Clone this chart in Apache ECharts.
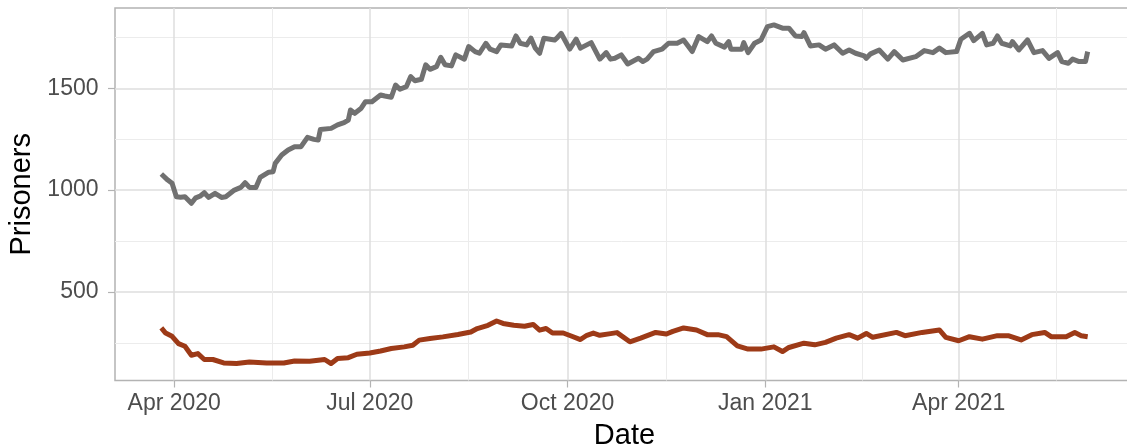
<!DOCTYPE html>
<html>
<head>
<meta charset="utf-8">
<script src="https://cdn.jsdelivr.net/npm/echarts@6/dist/echarts.min.js"></script>
<style>
  html, body { margin: 0; padding: 0; background: #fff; }
  #chart { width: 1127px; height: 447px; }
</style>
</head>
<body>
<div id="chart"></div>
<script>
// grey line (upper series)
const greyDates = [
  '2020-03-26','2020-03-29','2020-03-31','2020-04-02','2020-04-04','2020-04-06','2020-04-09','2020-04-11',
  '2020-04-13','2020-04-15','2020-04-17','2020-04-20','2020-04-23','2020-04-25','2020-04-29','2020-05-02',
  '2020-05-04','2020-05-06','2020-05-09','2020-05-11','2020-05-15','2020-05-17','2020-05-18','2020-05-21',
  '2020-05-24','2020-05-27','2020-05-30','2020-06-02','2020-06-05','2020-06-07','2020-06-08','2020-06-13',
  '2020-06-16','2020-06-19','2020-06-21','2020-06-22','2020-06-24','2020-06-27','2020-06-29','2020-07-02',
  '2020-07-06','2020-07-08','2020-07-11','2020-07-13','2020-07-15','2020-07-18','2020-07-20','2020-07-22',
  '2020-07-25','2020-07-27','2020-07-29','2020-08-01','2020-08-03','2020-08-05','2020-08-08','2020-08-10',
  '2020-08-14','2020-08-16','2020-08-19','2020-08-21','2020-08-24','2020-08-26','2020-08-29','2020-08-31',
  '2020-09-05','2020-09-07','2020-09-09','2020-09-12','2020-09-14','2020-09-16','2020-09-18','2020-09-20',
  '2020-09-25','2020-09-26','2020-09-28','2020-10-02','2020-10-05','2020-10-07','2020-10-12','2020-10-16',
  '2020-10-19','2020-10-21','2020-10-23','2020-10-26','2020-10-29','2020-11-03','2020-11-05','2020-11-07',
  '2020-11-10','2020-11-14','2020-11-17','2020-11-21','2020-11-24','2020-11-28','2020-12-01','2020-12-05',
  '2020-12-07','2020-12-09','2020-12-13','2020-12-15','2020-12-16','2020-12-21','2020-12-22','2020-12-24',
  '2020-12-27','2020-12-30','2021-01-02','2021-01-05','2021-01-09','2021-01-12','2021-01-15','2021-01-18',
  '2021-01-19','2021-01-22','2021-01-26','2021-01-29','2021-02-02','2021-02-06','2021-02-09','2021-02-12',
  '2021-02-16','2021-02-17','2021-02-19','2021-02-23','2021-02-27','2021-03-02','2021-03-06','2021-03-12',
  '2021-03-16','2021-03-20','2021-03-23','2021-03-26','2021-03-31','2021-04-02','2021-04-06','2021-04-08',
  '2021-04-12','2021-04-14','2021-04-17','2021-04-19','2021-04-21','2021-04-25','2021-04-26','2021-04-29',
  '2021-05-03','2021-05-06','2021-05-10','2021-05-13','2021-05-17','2021-05-19','2021-05-22','2021-05-24',
  '2021-05-27','2021-05-30','2021-05-31'
];
const greyValues = [
  1079, 1049, 1033, 967, 965, 967, 935, 962,
  970, 987, 964, 984, 964, 967, 1000, 1013,
  1036, 1013, 1013, 1062, 1088, 1090, 1131, 1172,
  1197, 1213, 1213, 1259, 1249, 1246, 1298, 1303,
  1320, 1331, 1344, 1393, 1377, 1402, 1434, 1434,
  1467, 1462, 1456, 1516, 1495, 1508, 1557, 1537,
  1544, 1615, 1593, 1606, 1652, 1615, 1610, 1664,
  1643, 1705, 1680, 1672, 1721, 1692, 1680, 1713,
  1708, 1757, 1721, 1713, 1746, 1697, 1672, 1746,
  1737, 1746, 1770, 1692, 1741, 1697, 1724, 1643,
  1675, 1643, 1647, 1664, 1619, 1647, 1631, 1643,
  1680, 1692, 1721, 1721, 1737, 1680, 1754, 1729,
  1757, 1721, 1702, 1729, 1692, 1692, 1724, 1675,
  1721, 1737, 1803, 1811, 1795, 1795, 1757, 1754,
  1773, 1708, 1713, 1692, 1713, 1672, 1688, 1672,
  1659, 1647, 1669, 1688, 1643, 1680, 1639, 1655,
  1685, 1675, 1697, 1675, 1680, 1741, 1770, 1734,
  1770, 1713, 1721, 1757, 1721, 1708, 1729, 1688,
  1737, 1675, 1685, 1647, 1675, 1631, 1623, 1643,
  1631, 1631, 1680
];

// dark red line (lower series)
const redDates = [
  '2020-03-26','2020-03-28','2020-03-31','2020-04-03','2020-04-06','2020-04-09','2020-04-12','2020-04-15',
  '2020-04-19','2020-04-24','2020-04-30','2020-05-06','2020-05-14','2020-05-22','2020-05-27','2020-06-03',
  '2020-06-10','2020-06-13','2020-06-16','2020-06-21','2020-06-25','2020-07-01','2020-07-06','2020-07-11',
  '2020-07-17','2020-07-21','2020-07-24','2020-07-29','2020-08-04','2020-08-11','2020-08-17','2020-08-20',
  '2020-08-25','2020-08-29','2020-09-01','2020-09-06','2020-09-11','2020-09-15','2020-09-18','2020-09-21',
  '2020-09-24','2020-09-29','2020-10-03','2020-10-07','2020-10-10','2020-10-13','2020-10-16','2020-10-21',
  '2020-10-24','2020-10-30','2020-11-04','2020-11-11','2020-11-16','2020-11-19','2020-11-24','2020-11-30',
  '2020-12-05','2020-12-10','2020-12-14','2020-12-19','2020-12-24','2020-12-30','2021-01-05','2021-01-09',
  '2021-01-12','2021-01-19','2021-01-24','2021-01-29','2021-02-03','2021-02-09','2021-02-13','2021-02-17',
  '2021-02-20','2021-03-03','2021-03-07','2021-03-15','2021-03-23','2021-03-26','2021-04-01','2021-04-06',
  '2021-04-12','2021-04-19','2021-04-24','2021-04-30','2021-05-05','2021-05-11','2021-05-14','2021-05-21',
  '2021-05-25','2021-05-28','2021-05-31'
];
const redValues = [
  323, 298, 282, 246, 233, 189, 197, 168,
  168, 151, 148, 156, 151, 151, 161, 159,
  168, 148, 173, 177, 194, 200, 210, 222,
  230, 238, 263, 271, 279, 291, 303, 320,
  336, 357, 345, 336, 331, 340, 312, 320,
  298, 298, 282, 266, 287, 298, 287, 295,
  300, 255, 273, 301, 293, 306, 323, 313,
  290, 290, 280, 235, 219, 219, 230, 207,
  227, 248, 240, 252, 273, 290, 273, 296,
  277, 301, 285, 301, 313, 277, 260, 280,
  268, 285, 285, 264, 290, 301, 280, 280,
  301, 285, 280
];

// axis breaks
const xBreakDates = ['2020-04-01', '2020-07-01', '2020-10-01', '2021-01-01', '2021-04-01', '2021-07-01'];
const xBreakLabels = ['Apr 2020', 'Jul 2020', 'Oct 2020', 'Jan 2021', 'Apr 2021', 'Jul 2021'];
const yBreaks = [500, 1000, 1500];
const yMinorBreaks = [250, 750, 1250, 1750];

const toTime = s => new Date(s + 'T00:00:00').getTime();

// ggplot-like 5% expansion of the data range
const allTimes = greyDates.concat(redDates).map(toTime);
const tMin = Math.min(...allTimes), tMax = Math.max(...allTimes);
const xMin = tMin - (tMax - tMin) * 0.05;
const xMax = tMax + (tMax - tMin) * 0.05;
const allVals = greyValues.concat(redValues);
const vMin = Math.min(...allVals), vMax = Math.max(...allVals);
const yMin = vMin - (vMax - vMin) * 0.05;
const yMax = vMax + (vMax - vMin) * 0.05;

const breakTimes = xBreakDates.map(toTime);
const xMajor = breakTimes.filter(t => t >= xMin && t <= xMax);
const xMinor = [];
for (let i = 0; i < breakTimes.length - 1; i++) {
  const m = (breakTimes[i] + breakTimes[i + 1]) / 2;
  if (m >= xMin && m <= xMax) xMinor.push(m);
}
const labelOf = {};
breakTimes.forEach((t, i) => { labelOf[t] = xBreakLabels[i]; });

const FONT = 'Liberation Sans, Arial, sans-serif';
const GRID_COLOR = '#dedede';

const chart = echarts.init(document.getElementById('chart'));

chart.setOption({
  animation: false,
  backgroundColor: '#ffffff',
  grid: {
    left: 115, top: 8, width: 1019, height: 372.5,
    containLabel: false, outerBoundsMode: 'none',
    show: true, borderColor: '#b3b3b3', borderWidth: 1.5, backgroundColor: '#ffffff'
  },
  xAxis: [
    {
      type: 'value', min: xMin, max: xMax, scale: true,
      name: 'Date', nameLocation: 'middle', nameGap: 41,
      nameTextStyle: { fontFamily: FONT, fontSize: 29, color: '#000000' },
      axisLine: { show: false },
      axisTick: { show: true, length: 7, customValues: xMajor, lineStyle: { color: '#b3b3b3', width: 1.2 } },
      axisLabel: {
        customValues: xMajor, margin: 12, fontFamily: FONT, fontSize: 23, color: '#4d4d4d',
        formatter: v => labelOf[v] || ''
      },
      splitLine: { show: true, lineStyle: { color: GRID_COLOR, width: 1.5 } }
    },
    {
      type: 'value', min: xMin, max: xMax, scale: true, position: 'bottom',
      axisLine: { show: false },
      axisTick: { show: false, customValues: xMinor },
      axisLabel: { show: false, customValues: xMinor },
      splitLine: { show: true, lineStyle: { color: '#ececec', width: 1 } }
    }
  ],
  yAxis: [
    {
      type: 'value', min: yMin, max: yMax,
      name: 'Prisoners', nameLocation: 'middle', nameGap: 74,
      nameTextStyle: { fontFamily: FONT, fontSize: 29, color: '#000000' },
      axisLine: { show: false },
      axisTick: { show: true, length: 7, customValues: yBreaks, lineStyle: { color: '#b3b3b3', width: 1.2 } },
      axisLabel: {
        customValues: yBreaks, margin: 16.5, fontFamily: FONT, fontSize: 23, color: '#4d4d4d',
        formatter: v => String(v)
      },
      splitLine: { show: true, lineStyle: { color: GRID_COLOR, width: 1.5 } }
    },
    {
      type: 'value', min: yMin, max: yMax, position: 'left',
      axisLine: { show: false },
      axisTick: { show: false, customValues: yMinorBreaks },
      axisLabel: { show: false, customValues: yMinorBreaks },
      splitLine: { show: true, lineStyle: { color: '#ececec', width: 1 } }
    }
  ],
  series: [
    {
      name: 'grey', type: 'line', xAxisIndex: 0, yAxisIndex: 0,
      data: greyDates.map((d, i) => [toTime(d), greyValues[i]]),
      showSymbol: false, silent: true,
      lineStyle: { color: '#717171', width: 5, join: 'round', cap: 'butt' }
    },
    {
      name: 'red', type: 'line', xAxisIndex: 0, yAxisIndex: 0,
      data: redDates.map((d, i) => [toTime(d), redValues[i]]),
      showSymbol: false, silent: true,
      lineStyle: { color: '#9d3a17', width: 5, join: 'round', cap: 'butt' }
    }
  ]
});
</script>
</body>
</html>
